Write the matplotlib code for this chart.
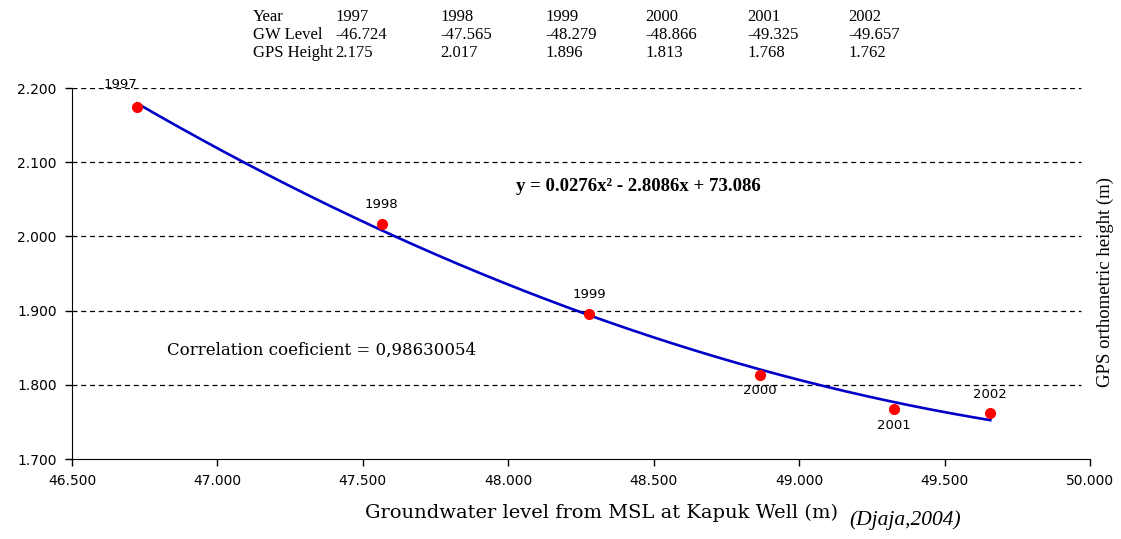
"""
    gw_gps.py

    GPS orthometric height vs groundwater level at Kapuk Well
"""

from matplotlib import pyplot as plt
import numpy as np

years = ['1997', '1998', '1999', '2000', '2001', '2002']
gw_level = [-46.724, -47.565, -48.279, -48.866, -49.325, -49.657]
gps_height = [2.175, 2.017, 1.896, 1.813, 1.768, 1.762]

equation = 'y = 0.0276x² - 2.8086x + 73.086'
correlation = 'Correlation coeficient = 0,98630054'

# label offsets (points) for the year tags
label_off = [(-12, 16), (0, 14), (0, 14), (0, -11), (0, -12), (0, 13)]

x = -np.array(gw_level)
y = np.array(gps_height)

# trend line, as Excel draws it from the points
p = np.polyfit(x, y, 2)
xf = np.linspace(x.min(), x.max(), 200)
yf = np.polyval(p, xf)

serif = 'Liberation Serif'
wide_serif = 'DejaVu Serif'
sans = 'DejaVu Sans'

fig = plt.figure(figsize=(11.21, 5.39), dpi=100)
ax = fig.add_axes([0.0642, 0.1484, 0.9082, 0.6883])

for v in [1.8, 1.9, 2.0, 2.1, 2.2]:
    ax.hlines(v, 46.5, 49.97, colors='black', linestyles=(0, (4, 3)), linewidth=0.9, zorder=1)

ax.plot(xf, yf, color='#0000c8', linewidth=1.9, zorder=2)
ax.plot(x, y, 'o', color='#ff0000', markersize=7, zorder=3)

for xi, yi, t, off in zip(x, y, years, label_off):
    ax.annotate(t, (xi, yi), xytext=off, textcoords='offset points',
                ha='center', va='center', fontsize=9.5, family=sans)

ax.set_xlim(46.5, 50.0)
ax.set_ylim(1.7, 2.2)
ax.set_xticks([46.5, 47.0, 47.5, 48.0, 48.5, 49.0, 49.5, 50.0])
ax.set_yticks([1.7, 1.8, 1.9, 2.0, 2.1, 2.2])
ax.xaxis.set_major_formatter(plt.FormatStrFormatter('%.3f'))
ax.yaxis.set_major_formatter(plt.FormatStrFormatter('%.3f'))
ax.tick_params(direction='out', length=5, width=1, labelsize=10, pad=6)
for lab in ax.get_xticklabels() + ax.get_yticklabels():
    lab.set_family(sans)

ax.spines['top'].set_visible(False)
ax.spines['right'].set_visible(False)

ax.set_xlabel('Groundwater level from MSL at Kapuk Well (m)', family=wide_serif,
              fontsize=14, va='center')
ax.xaxis.set_label_coords(0.5197, -0.1456)
ax.text(1.007, 0.477, 'GPS orthometric height (m)', transform=ax.transAxes,
        rotation=90, ha='left', va='center', family=serif, fontsize=13.5)

ax.text(48.446, 2.0666, equation, ha='center', va='center', family=serif,
        fontsize=13.5, fontweight='bold')
ax.text(46.827, 1.847, correlation, ha='left', va='center', family=wide_serif, fontsize=12)

fig.text(849 / 1121, 1 - 520 / 539, '(Djaja,2004)', family=serif, style='italic',
         fontsize=15.5, ha='left', va='center')

# data table above the plot
rows = [['Year'] + years,
        ['GW Level'] + ['%.3f' % g for g in gw_level],
        ['GPS Height'] + ['%.3f' % h for h in gps_height]]
col_x = [253, 335, 440, 545, 645, 747, 848]
row_y = [17, 35, 53]
for r, yy in zip(rows, row_y):
    for c, xx in zip(r, col_x):
        fig.text(xx / 1121, 1 - yy / 539, c, family=serif, fontsize=12,
                 ha='left', va='center')

fig.savefig('out.png', dpi=100)
